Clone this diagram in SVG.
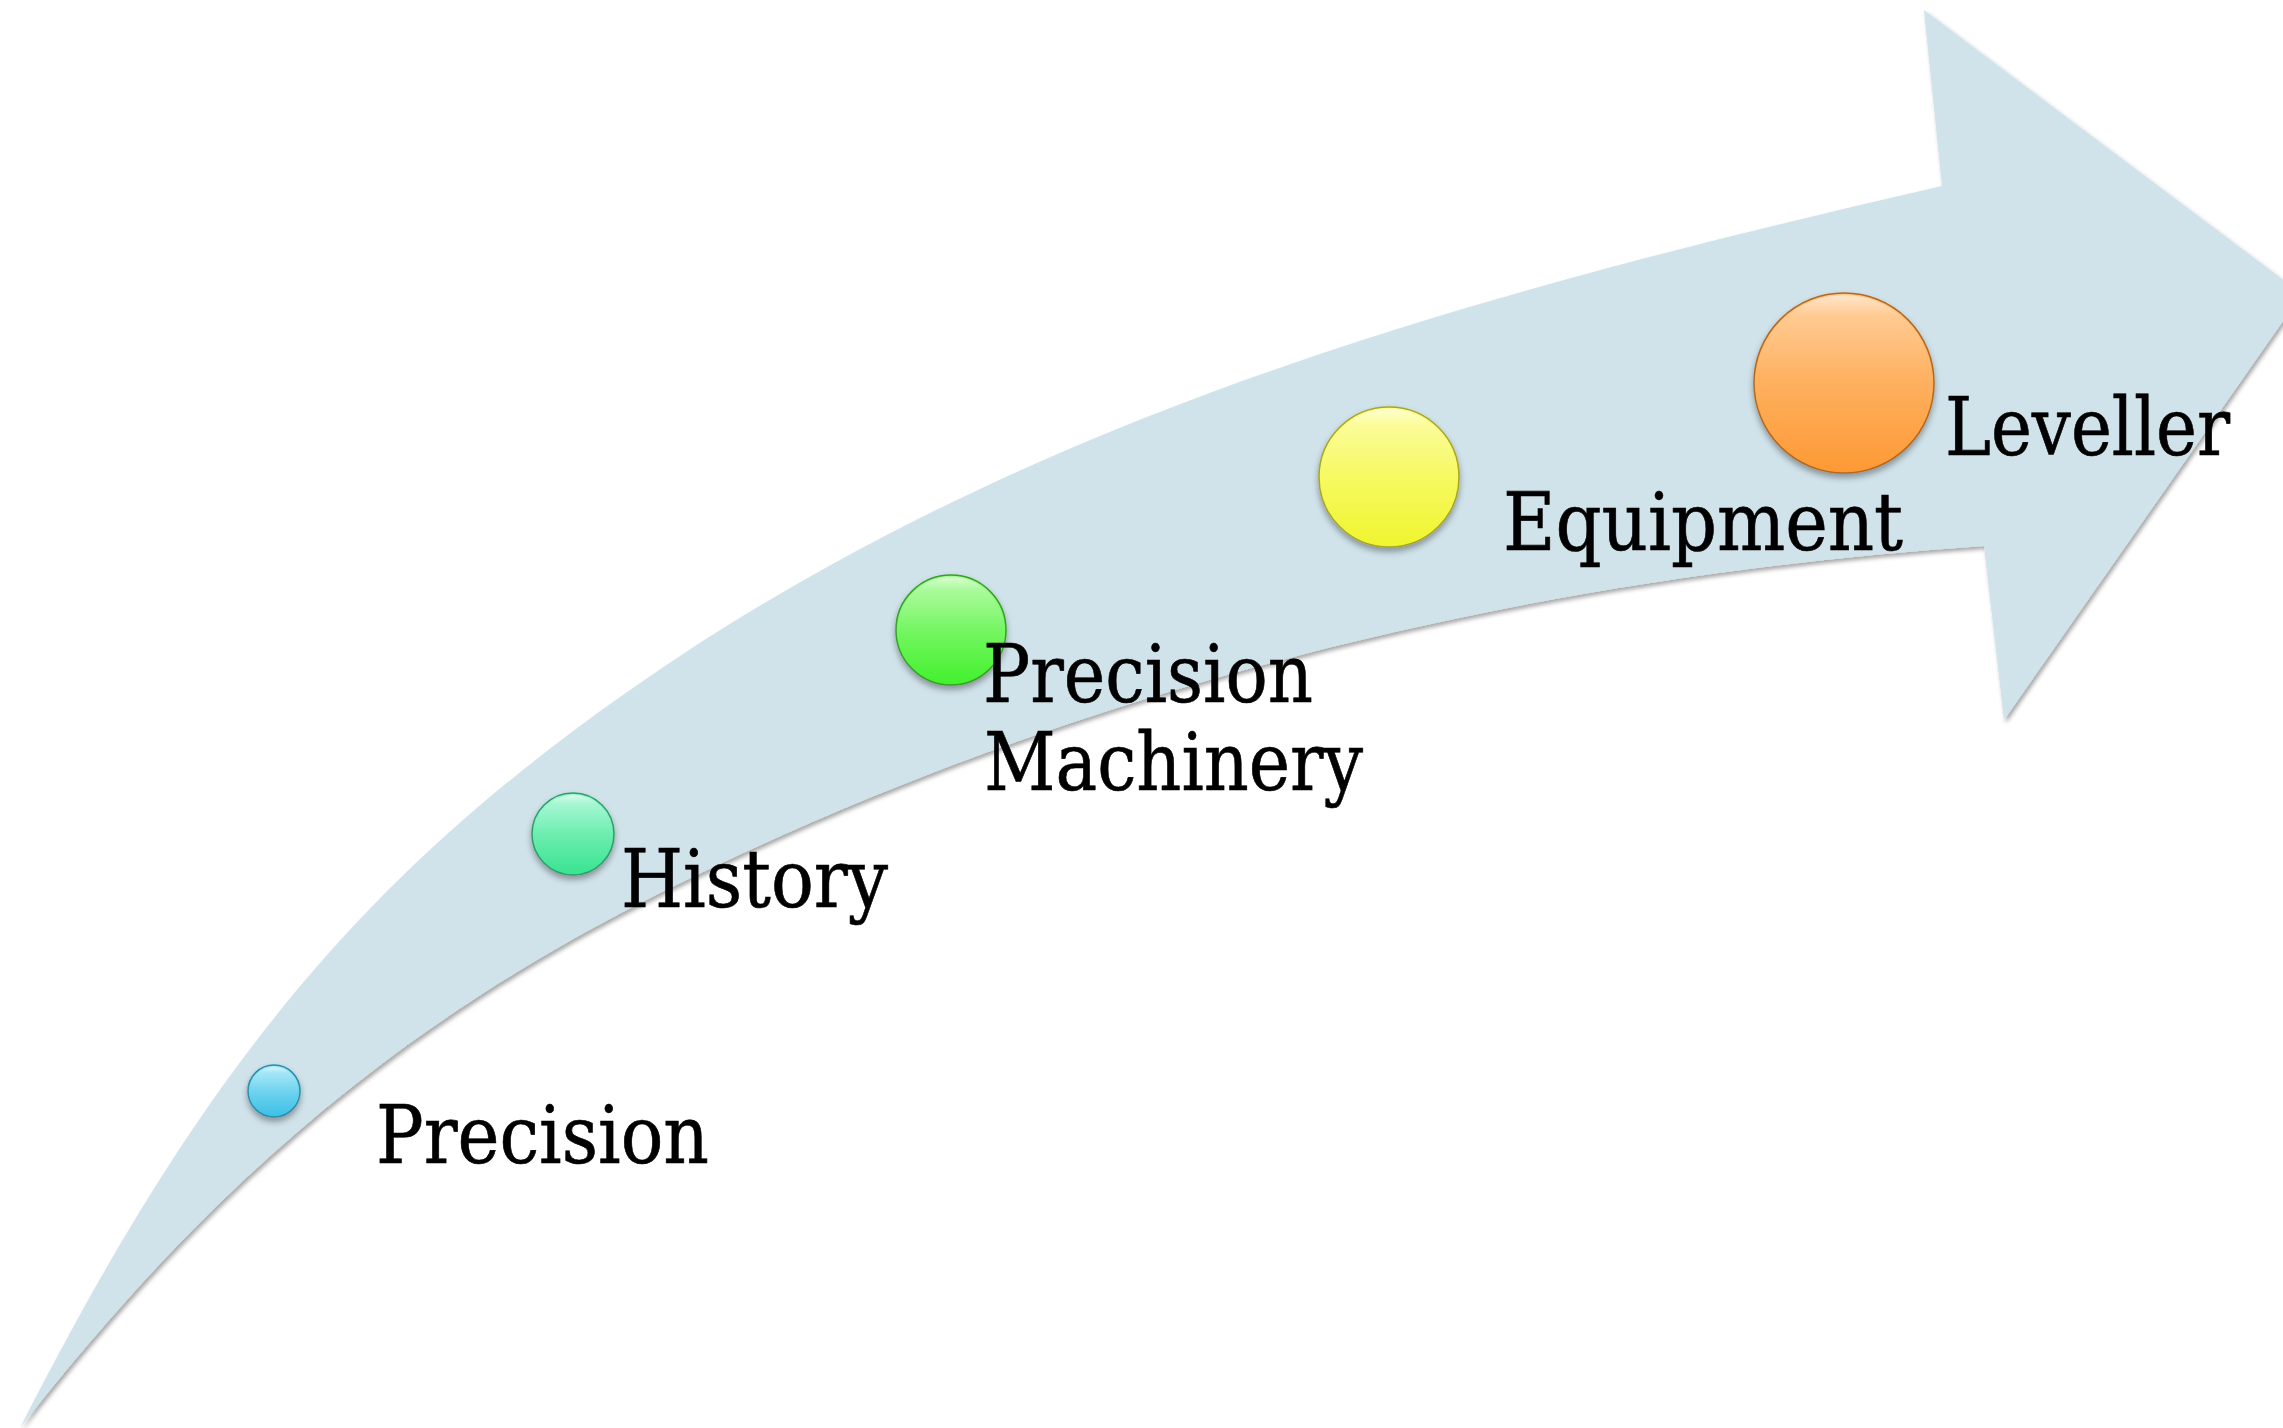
<svg xmlns="http://www.w3.org/2000/svg" width="2283" height="1428" viewBox="0 0 2283 1428">
  <defs>
    <style>
      .lbl { font-family: "DejaVu Serif Condensed", "DejaVu Serif", "Liberation Serif", serif; font-stretch: condensed; font-size: 80px; fill: #000000; stroke: #000000; stroke-width: 0.6; }
      .ball { stroke-width: 1.5; }
      .gloss { fill: url(#gloss); }
    </style>
    <filter id="arrowShadow" x="-5%" y="-5%" width="110%" height="110%">
      <feDropShadow dx="2" dy="3" stdDeviation="2" flood-color="#000000" flood-opacity="0.35"/>
    </filter>
    <filter id="ballShadow" x="-30%" y="-30%" width="160%" height="170%">
      <feDropShadow dx="0" dy="4" stdDeviation="3" flood-color="#000000" flood-opacity="0.35"/>
    </filter>
    <linearGradient id="gloss" x1="0" y1="0" x2="0" y2="1">
      <stop offset="0" stop-color="#ffffff" stop-opacity="0.55"/>
      <stop offset="0.12" stop-color="#ffffff" stop-opacity="0.15"/>
      <stop offset="0.5" stop-color="#ffffff" stop-opacity="0"/>
      <stop offset="1" stop-color="#ffffff" stop-opacity="0"/>
    </linearGradient>
    <linearGradient id="gBlue" x1="0" y1="0" x2="0" y2="1">
      <stop offset="0" stop-color="#a3e8f8"/>
      <stop offset="1" stop-color="#3cbfe6"/>
    </linearGradient>
    <linearGradient id="gTeal" x1="0" y1="0" x2="0" y2="1">
      <stop offset="0" stop-color="#a2f8d2"/>
      <stop offset="1" stop-color="#38e38f"/>
    </linearGradient>
    <linearGradient id="gGreen" x1="0" y1="0" x2="0" y2="1">
      <stop offset="0" stop-color="#a8fb98"/>
      <stop offset="1" stop-color="#42f12c"/>
    </linearGradient>
    <linearGradient id="gYellow" x1="0" y1="0" x2="0" y2="1">
      <stop offset="0" stop-color="#fdfd92"/>
      <stop offset="1" stop-color="#eff52e"/>
    </linearGradient>
    <linearGradient id="gOrange" x1="0" y1="0" x2="0" y2="1">
      <stop offset="0" stop-color="#ffc688"/>
      <stop offset="1" stop-color="#fd9934"/>
    </linearGradient>
  </defs>

  <rect x="0" y="0" width="2283" height="1428" fill="#ffffff"/>

  <g id="arrow">
    <path filter="url(#arrowShadow)" fill="#d0e2ea"
      d="M20,1428
         C201.6,1071.6 359.7,879.4 630,690
         C1031.3,408.7 1503.7,287.3 1942,186
         L1924,10
         L2302,294
         L2004,720
         L1984,546
         C1505,578.2 1053.4,696.3 660,893
         C409.7,1018.2 217,1175.8 20,1428 Z"/>
  </g>

  <g id="connectors"></g>

  <g id="node-precision">
    <g filter="url(#ballShadow)">
      <circle class="ball" cx="274" cy="1091" r="26" fill="url(#gBlue)" stroke="#2b8eac"/>
    </g>
    <circle class="gloss" cx="274" cy="1091" r="24"/>
    <text class="lbl" x="376" y="1163" textLength="333" lengthAdjust="spacingAndGlyphs">Precision</text>
  </g>

  <g id="node-history">
    <g filter="url(#ballShadow)">
      <circle class="ball" cx="573" cy="834" r="41" fill="url(#gTeal)" stroke="#2a9e68"/>
    </g>
    <circle class="gloss" cx="573" cy="834" r="39"/>
    <text class="lbl" x="621" y="907" textLength="267" lengthAdjust="spacingAndGlyphs">History</text>
  </g>

  <g id="node-precision-machinery">
    <g filter="url(#ballShadow)">
      <circle class="ball" cx="951" cy="630" r="55" fill="url(#gGreen)" stroke="#35a226"/>
    </g>
    <circle class="gloss" cx="951" cy="630" r="53"/>
    <text class="lbl" x="983" y="702" textLength="330" lengthAdjust="spacingAndGlyphs">Precision</text>
    <text class="lbl" x="984" y="790" textLength="379" lengthAdjust="spacingAndGlyphs">Machinery</text>
  </g>

  <g id="node-equipment">
    <g filter="url(#ballShadow)">
      <circle class="ball" cx="1389" cy="477" r="70" fill="url(#gYellow)" stroke="#a7a622"/>
    </g>
    <circle class="gloss" cx="1389" cy="477" r="68"/>
    <text class="lbl" x="1503" y="550" textLength="400" lengthAdjust="spacingAndGlyphs">Equipment</text>
  </g>

  <g id="node-leveller">
    <g filter="url(#ballShadow)">
      <circle class="ball" cx="1844" cy="383" r="90" fill="url(#gOrange)" stroke="#b5681f"/>
    </g>
    <circle class="gloss" cx="1844" cy="383" r="88"/>
    <text class="lbl" x="1945" y="455" textLength="285" lengthAdjust="spacingAndGlyphs">Leveller</text>
  </g>
</svg>
